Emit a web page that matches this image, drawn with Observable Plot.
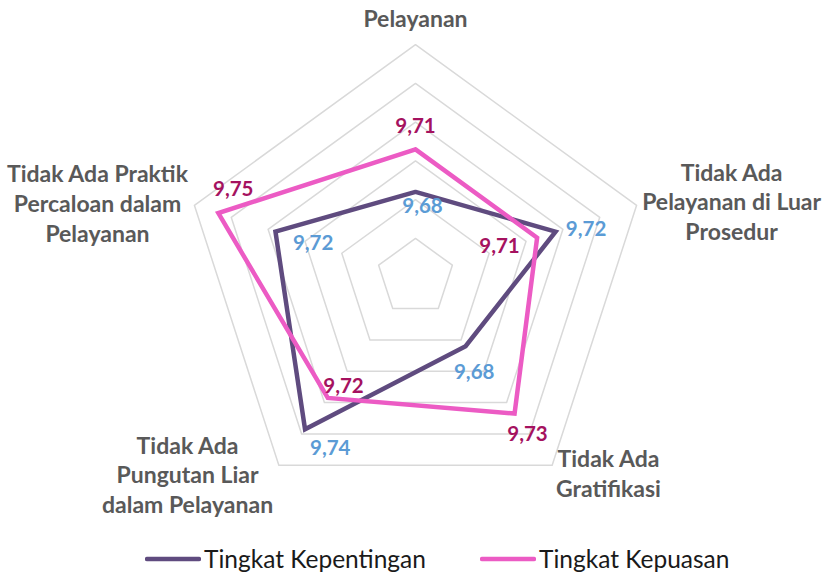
<!DOCTYPE html>
<html>
<head>
<meta charset="utf-8">
<script src="https://cdn.jsdelivr.net/npm/d3@7"></script>
<script src="https://cdn.jsdelivr.net/npm/@observablehq/plot@0.6"></script>
<style>
  html, body { margin: 0; padding: 0; background: #fff; }
  #wrap { width: 824px; height: 578px; position: relative; overflow: hidden; }
  #legend { position: absolute; left: 0; top: 540px; width: 824px; height: 38px; font-family: Lato, "Open Sans", sans-serif; }
  .item { position: absolute; top: 0; height: 38px; display: flex; align-items: center; }
  .item span { font-size: 24.5px; color: #1a1a1a; margin-left: 3px; line-height: 1; }
</style>
</head>
<body>
<div id="wrap"><div id="chart"></div><div id="legend"></div></div>
<script>
// ---- data ----
const categories = [
  "Pelayanan",
  "Tidak Ada\nPelayanan di Luar\nProsedur",
  "Tidak Ada\nGratifikasi",
  "Tidak Ada\nPungutan Liar\ndalam Pelayanan",
  "Tidak Ada Praktik\nPercaloan dalam\nPelayanan"
];
const seriesNames = ["Tingkat Kepentingan", "Tingkat Kepuasan"];
const kepentingan = [9.684, 9.716, 9.684, 9.737, 9.716];
const kepuasan = [9.706, 9.706, 9.727, 9.717, 9.747];
const ringTicks = [9.66, 9.68, 9.70, 9.72, 9.74, 9.76];
const axisMin = 9.64;
const axisMax = 9.76;

// ---- styles / layout ----
const colors = ["#5f4b7f", "#ec5bc4"];
const labelColors = ["#5b9bd5", "#a5125f"];
const W = 824, H = 540;
const R = 232.5, CX = 415, CY = 276.7;
// label offsets in pixels (dx, dy) relative to their anchor point
const catOffsets = [[0, -27], [95, -4.6], [56.3, 7], [-91.3, 8.5], [-96.9, -3]];
const valOffsets = [
  [[7, 14.7], [30.5, -1.8], [8.6, 26], [25.2, 18.7], [37.7, 12.2]],
  [[0, -22.4], [-37.6, 9.2], [12.9, 21], [15.7, -11], [14.9, -23.5]]
];

const n = categories.length;
const angle = i => (i * 2 * Math.PI) / n;
const norm = v => (v - axisMin) / (axisMax - axisMin);
const pt = (i, v) => ({ x: norm(v) * Math.sin(angle(i)), y: norm(v) * Math.cos(angle(i)) });

const rings = ringTicks.flatMap(t =>
  d3.range(n + 1).map(k => ({ ...pt(k % n, t), ring: t }))
);
const series = [kepentingan, kepuasan];
const seriesPts = series.map((vals, s) =>
  d3.range(n + 1).map(k => ({ ...pt(k % n, vals[k % n]), s, v: vals[k % n] }))
);
const fmt = v => v.toFixed(2).replace(".", ",");

const marks = [];
marks.push(Plot.line(rings, { x: "x", y: "y", z: "ring", stroke: "#d9d9d9", strokeWidth: 1.5 }));
seriesPts.forEach((p, s) => {
  marks.push(Plot.line(p, { x: "x", y: "y", stroke: colors[s], strokeWidth: 4.5, strokeLinejoin: "miter", strokeMiterlimit: 6 }));
});
series.forEach((vals, s) => {
  vals.forEach((v, i) => {
    marks.push(Plot.text([{ ...pt(i, v), t: fmt(v) }], {
      x: "x", y: "y", text: "t", fill: labelColors[s], fontSize: 20.5, fontWeight: "bold",
      textAnchor: "middle", lineAnchor: "middle", dx: valOffsets[s][i][0], dy: valOffsets[s][i][1]
    }));
  });
});
categories.forEach((c, i) => {
  marks.push(Plot.text([{ ...pt(i, axisMax), t: c }], {
    x: "x", y: "y", text: "t", fill: "#595959", fontSize: 23, fontWeight: "bold",
    textAnchor: "middle", lineAnchor: "middle", lineHeight: 1.29, dx: catOffsets[i][0], dy: catOffsets[i][1]
  }));
});

const chart = Plot.plot({
  width: W, height: H,
  marginTop: 0, marginBottom: 0, marginLeft: 0, marginRight: 0,
  style: { fontFamily: "Lato, 'Open Sans', sans-serif", background: "#fff", overflow: "visible" },
  x: { domain: [-CX / R, (W - CX) / R], axis: null },
  y: { domain: [(CY - H) / R, CY / R], axis: null },
  marks
});
document.getElementById("chart").appendChild(chart);

// legend
const legend = document.getElementById("legend");
const legendX = [145, 480];
seriesNames.forEach((name, s) => {
  const item = document.createElement("div");
  item.className = "item";
  item.style.left = legendX[s] + "px";
  item.innerHTML = `<svg width="56" height="8"><line x1="2" y1="4" x2="54" y2="4" stroke="${colors[s]}" stroke-width="4.5" stroke-linecap="round"/></svg><span>${name}</span>`;
  legend.appendChild(item);
});
</script>
</body>
</html>
